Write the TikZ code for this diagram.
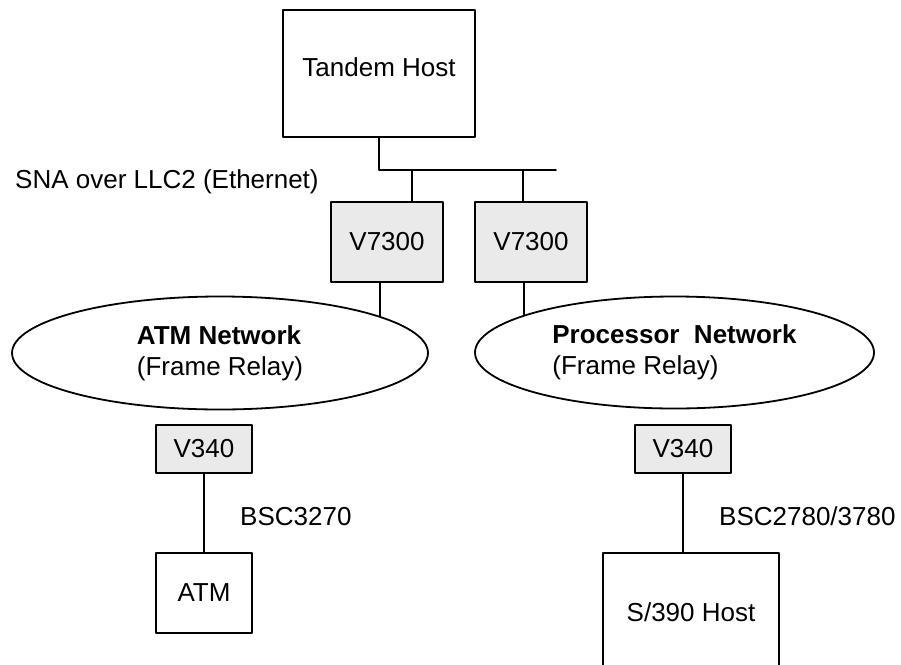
\documentclass[tikz,border=0pt]{standalone}
\usepackage{fontspec}
\setmainfont{Liberation Sans}
\usetikzlibrary{shapes.geometric}
\definecolor{unitgray}{HTML}{EAEAEA}

\begin{document}
\begin{tikzpicture}[x=1pt,y=-1pt,line cap=round,line join=round,
  box/.style={draw,line width=1.8pt,fill=white,inner sep=0pt,font=\fontsize{26}{30}\selectfont},
  unit/.style={box,fill=unitgray},
  cloud/.style={ellipse,draw,line width=1.8pt,inner sep=0pt,align=left,font=\fontsize{26}{31}\selectfont},
  lbl/.style={anchor=base west,inner sep=0pt,font=\fontsize{26}{30}\selectfont},
  wire/.style={line width=1.8pt}]
\clip (0,0) rectangle (901,664);
\node[box,minimum width=192,minimum height=127,text depth=12pt] (tandem) at (379,73.5) {Tandem Host};
\coordinate (bus) at (379,170);
\coordinate (busE) at (556,170);
\coordinate (tapA) at (412,170);
\coordinate (tapB) at (523,170);
\node[unit,minimum width=112,minimum height=80] (v7300L) at (387,242) {V7300};
\node[unit,minimum width=112,minimum height=80] (v7300R) at (531,242) {V7300};
\draw[wire] (tandem.south) -- (bus) -- (busE);
\draw[wire] (tapA) -- (tapA |- v7300L.north);
\draw[wire] (tapB) -- (tapB |- v7300R.north);
\node[lbl] (sna) at (15,188) {SNA over LLC2 (Ethernet)};
\node[cloud,minimum width=416,minimum height=113] (atmnet) at (220,353) {\textbf{ATM Network}\\(Frame Relay)};
\node[cloud,minimum width=399,minimum height=112] (procnet) at (674.5,352.5) {\textbf{Processor~~Network}\\(Frame Relay)};
\draw[wire] (atmnet.13 |- v7300L.south) -- (atmnet.13);
\draw[wire] (procnet.166 |- v7300R.south) -- (procnet.166);
\node[unit,minimum width=96,minimum height=48] (v340L) at (204,449) {V340};
\node[box,minimum width=96,minimum height=80] (atm) at (204,593) {ATM};
\node[unit,minimum width=96,minimum height=48] (v340R) at (683,449) {V340};
\node[box,minimum width=176,minimum height=118] (s390) at (691,612) {S/390 Host};
\draw[wire] (v340L) -- (atm);
\draw[wire] (v340R.south) -- (v340R.south |- s390.north);
\node[lbl] (bscL) at (240,525) {BSC3270};
\node[lbl] (bscR) at (719,525) {BSC2780/3780};
\end{tikzpicture}
\end{document}
